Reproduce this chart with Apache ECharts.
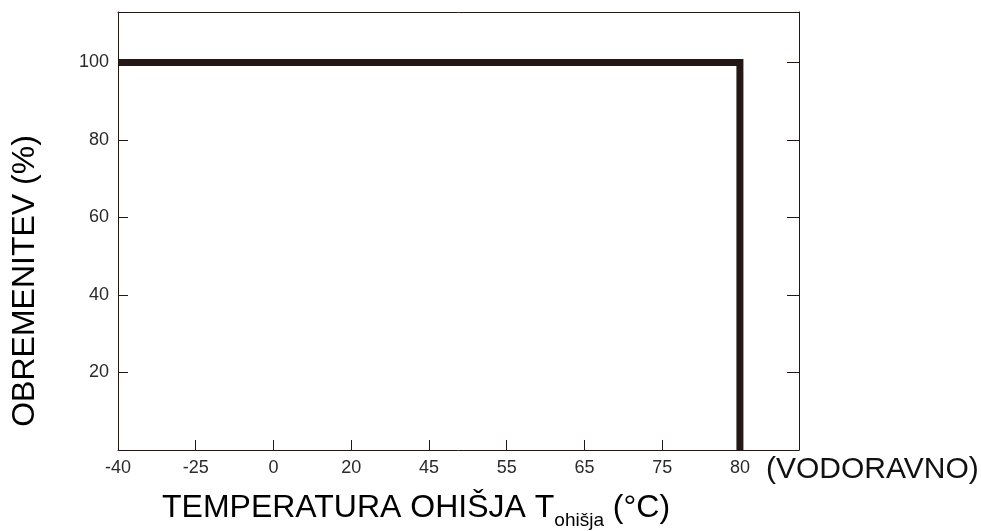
<!DOCTYPE html>
<html><head><meta charset="utf-8">
<script src="https://cdn.jsdelivr.net/npm/echarts@6/dist/echarts.min.js"></script>
<style>html,body{margin:0;padding:0;background:#fff}#c{width:981px;height:531px}</style>
</head><body><div id="c"></div>
<script>
// Tick labels of the (non-linear) temperature axis, one per tick position
const tickLabels = [-40, -25, 0, 20, 45, 55, 65, 75, 80];
// Derating curve: case temperature (°C) and load (%)
const curveTemps = [-40, 80, 80];
const curveLoad = [100, 100, 0];
// Labelled load ticks
const yTicks = [20, 40, 60, 80, 100];

const axisColor = '#231815';
const labelFont = 'Liberation Sans, Arial, sans-serif';

const chart = echarts.init(document.getElementById('c'), null, {renderer: 'canvas'});
chart.setOption({
  animation: false,
  backgroundColor: '#fff',
  grid: {left: 118, right: 182, top: 12, bottom: 81, containLabel: false},
  xAxis: [{
    type: 'value', position: 'bottom', min: 0, max: 8.76, interval: 1,
    axisLine: {show: true, onZero: false, lineStyle: {color: axisColor, width: 1}},
    axisTick: {show: true, inside: true, length: 10, lineStyle: {color: axisColor, width: 1}},
    axisLabel: {
      margin: 9, fontSize: 18, fontFamily: labelFont, color: '#2a2a2a',
      formatter: v => (Number.isInteger(v) && tickLabels[v] !== undefined) ? String(tickLabels[v]) : ''
    },
    splitLine: {show: false}
  }, {
    type: 'value', position: 'top', min: 0, max: 8.76, interval: 1,
    axisLine: {show: true, onZero: false, lineStyle: {color: axisColor, width: 1}},
    axisTick: {show: false}, axisLabel: {show: false}, splitLine: {show: false}
  }],
  yAxis: [{
    type: 'value', position: 'left', min: 0, max: 113, interval: 20,
    axisLine: {show: true, onZero: false, lineStyle: {color: axisColor, width: 1}},
    axisTick: {show: true, inside: true, length: 10, lineStyle: {color: axisColor, width: 1}},
    axisLabel: {
      margin: 9, fontSize: 18, fontFamily: labelFont, color: '#2a2a2a',
      formatter: v => yTicks.includes(v) ? String(v) : ''
    },
    splitLine: {show: false}
  }, {
    type: 'value', position: 'right', min: 0, max: 113, interval: 20,
    axisLine: {show: true, onZero: false, lineStyle: {color: axisColor, width: 1}},
    axisTick: {show: true, inside: true, length: 12, lineStyle: {color: axisColor, width: 1}},
    axisLabel: {show: false}, splitLine: {show: false}
  }],
  title: {
    left: 162, top: 491, padding: 0,
    text: '{a|TEMPERATURA OHIŠJA T}{b|ohišja}{a| (°C)}',
    textStyle: {
      fontWeight: 'normal',
      rich: {
        a: {fontSize: 32, fontWeight: 'normal', fontFamily: labelFont, color: '#000', lineHeight: 35},
        b: {fontSize: 19, fontWeight: 'normal', fontFamily: labelFont, color: '#000', verticalAlign: 'bottom', lineHeight: 19, padding: [0, 0, -4, 0]}
      }
    }
  },
  graphic: [{
    type: 'text', left: 766, top: 455,
    style: {text: '(VODORAVNO)', font: '30px ' + labelFont, fill: '#111'}
  }, {
    type: 'text', x: 25, y: 281, rotation: Math.PI / 2,
    style: {text: 'OBREMENITEV (%)', font: '32px ' + labelFont, fill: '#000', align: 'center', verticalAlign: 'middle'}
  }],
  series: [{
    type: 'line', xAxisIndex: 0, yAxisIndex: 0,
    data: curveTemps.map((t, i) => [tickLabels.indexOf(t), curveLoad[i]]),
    symbol: 'none', clip: false,
    lineStyle: {color: '#231815', width: 7, cap: 'butt', join: 'miter'}
  }]
});
</script>
</body></html>
